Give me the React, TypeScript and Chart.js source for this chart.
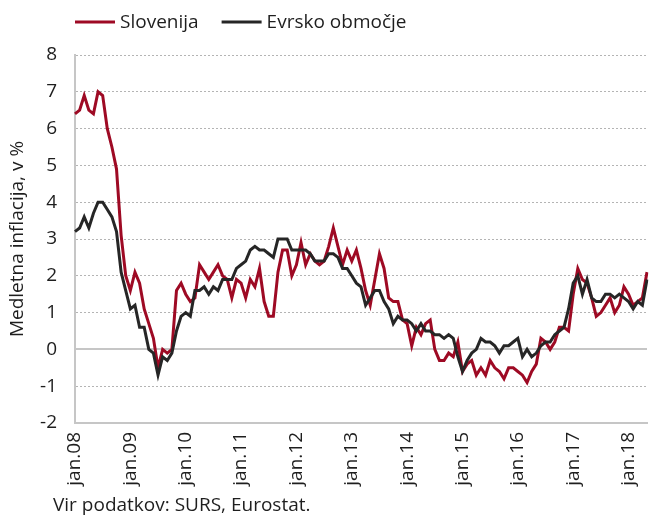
import React, { useEffect, useRef } from 'react';
import { Chart, registerables } from 'chart.js';

Chart.register(...registerables);

// ---- data ----
const monthNames = ['jan', 'feb', 'mar', 'apr', 'maj', 'jun', 'jul', 'avg', 'sep', 'okt', 'nov', 'dec'];
const years = ['08', '09', '10', '11', '12', '13', '14', '15', '16', '17', '18'];
const categories: string[] = years
  .flatMap((y) => monthNames.map((m) => `${m}.${y}`))
  .slice(0, 125);

const slovenija = [
  6.4, 6.5, 6.9, 6.5, 6.4, 7.0, 6.9, 6.0, 5.5, 4.9, 3.1, 2.0,
  1.6, 2.1, 1.8, 1.1, 0.7, 0.3, -0.5, 0.0, -0.1, 0.0, 1.6, 1.8,
  1.5, 1.3, 1.4, 2.3, 2.1, 1.9, 2.1, 2.3, 2.0, 1.9, 1.4, 1.9,
  1.8, 1.4, 1.9, 1.7, 2.2, 1.3, 0.9, 0.9, 2.1, 2.7, 2.7, 2.0,
  2.3, 2.9, 2.3, 2.6, 2.4, 2.3, 2.4, 2.8, 3.3, 2.8, 2.3, 2.7,
  2.4, 2.7, 2.2, 1.6, 1.2, 1.9, 2.6, 2.2, 1.4, 1.3, 1.3, 0.8,
  0.7, 0.1, 0.6, 0.4, 0.7, 0.8, 0.0, -0.3, -0.3, -0.1, -0.2, 0.2,
  -0.6, -0.4, -0.3, -0.7, -0.5, -0.7, -0.3, -0.5, -0.6, -0.8, -0.5, -0.5,
  -0.6, -0.7, -0.9, -0.6, -0.4, 0.3, 0.2, 0.0, 0.2, 0.6, 0.6, 0.5,
  1.5, 2.2, 1.9, 1.8, 1.4, 0.9, 1.0, 1.2, 1.4, 1.0, 1.2, 1.7,
  1.5, 1.2, 1.3, 1.4, 2.1,
];

const evrskoObmocje = [
  3.2, 3.3, 3.6, 3.3, 3.7, 4.0, 4.0, 3.8, 3.6, 3.2, 2.1, 1.6,
  1.1, 1.2, 0.6, 0.6, 0.0, -0.1, -0.7, -0.2, -0.3, -0.1, 0.5, 0.9,
  1.0, 0.9, 1.6, 1.6, 1.7, 1.5, 1.7, 1.6, 1.9, 1.9, 1.9, 2.2,
  2.3, 2.4, 2.7, 2.8, 2.7, 2.7, 2.6, 2.5, 3.0, 3.0, 3.0, 2.7,
  2.7, 2.7, 2.7, 2.6, 2.4, 2.4, 2.4, 2.6, 2.6, 2.5, 2.2, 2.2,
  2.0, 1.8, 1.7, 1.2, 1.4, 1.6, 1.6, 1.3, 1.1, 0.7, 0.9, 0.8,
  0.8, 0.7, 0.5, 0.7, 0.5, 0.5, 0.4, 0.4, 0.3, 0.4, 0.3, -0.2,
  -0.6, -0.3, -0.1, 0.0, 0.3, 0.2, 0.2, 0.1, -0.1, 0.1, 0.1, 0.2,
  0.3, -0.2, 0.0, -0.2, -0.1, 0.1, 0.2, 0.2, 0.4, 0.5, 0.6, 1.1,
  1.8, 2.0, 1.5, 1.9, 1.4, 1.3, 1.3, 1.5, 1.5, 1.4, 1.5, 1.4,
  1.3, 1.1, 1.3, 1.2, 1.9,
];

const seriesLabels = ['Slovenija', 'Evrsko območje'];
const yAxisTitle = 'Medletna inflacija, v %';
const sourceNote = 'Vir podatkov: SURS, Eurostat.';
const yMin = -2;
const yMax = 8;

// ---- styles ----
const FONT = '"Open Sans", sans-serif';
const TEXT = '#1e1e1e';
const RED = '#9e0a24';
const DARK = '#262626';
const AXIS_GREY = '#c6c6c6';
const GRID_GREY = '#b4b4b4';

const overlayPlugin = {
  id: 'overlayTexts',
  afterDraw(chart: any) {
    const ctx = chart.ctx as CanvasRenderingContext2D;
    ctx.save();
    ctx.font = `19px ${FONT}`;
    ctx.textBaseline = 'middle';
    let x = 75;
    const y = 22;
    chart.data.datasets.forEach((ds: any) => {
      ctx.strokeStyle = ds.borderColor;
      ctx.lineWidth = 3;
      ctx.beginPath();
      ctx.moveTo(x, y);
      ctx.lineTo(x + 40, y);
      ctx.stroke();
      x += 45;
      ctx.fillStyle = TEXT;
      ctx.textAlign = 'left';
      ctx.fillText(ds.label, x, y + 1);
      x += ctx.measureText(ds.label).width + 23;
    });
    ctx.textBaseline = 'alphabetic';
    ctx.fillStyle = TEXT;
    ctx.fillText(sourceNote, 53, 511);
    ctx.restore();
  },
};

export default function App() {
  const canvasRef = useRef<HTMLCanvasElement | null>(null);

  useEffect(() => {
    if (!canvasRef.current) return;
    const chart = new Chart(canvasRef.current, {
      type: 'line',
      data: {
        labels: categories,
        datasets: [
          {
            label: seriesLabels[0],
            data: slovenija,
            borderColor: RED,
            backgroundColor: RED,
            borderWidth: 3,
            pointRadius: 0,
            tension: 0,
            order: 2,
          },
          {
            label: seriesLabels[1],
            data: evrskoObmocje,
            borderColor: DARK,
            backgroundColor: DARK,
            borderWidth: 3,
            pointRadius: 0,
            tension: 0,
            order: 1,
          },
        ],
      },
      options: {
        animation: false,
        responsive: false,
        devicePixelRatio: 1,
        layout: { padding: { top: 55, right: 2, bottom: 0, left: 0 } },
        plugins: {
          legend: { display: false },
          tooltip: { enabled: false },
        },
        scales: {
          x: {
            type: 'category',
            offset: false,
            grid: { display: false, drawTicks: false },
            border: { display: true, color: AXIS_GREY, width: 2 },
            ticks: {
              autoSkip: false,
              maxRotation: 90,
              minRotation: 90,
              padding: 9,
              color: TEXT,
              font: { family: FONT, size: 19 },
              callback: (_v: any, i: number) => (i % 12 === 0 ? categories[i] : ''),
            },
            afterFit: (scale: any) => {
              scale.height = 93;
              scale.paddingLeft = 0;
              scale.paddingRight = 0;
            },
          },
          y: {
            min: yMin,
            max: yMax,
            ticks: {
              stepSize: 1,
              padding: 18,
              color: TEXT,
              font: { family: FONT, size: 19 },
            },
            grid: {
              drawTicks: false,
              color: (c: any) => (c.tick && c.tick.value === 0 ? AXIS_GREY : GRID_GREY),
              lineWidth: (c: any) => (c.tick && c.tick.value === 0 ? 2 : 1),
            },
            border: {
              display: true,
              color: AXIS_GREY,
              width: 2,
              dash: (c: any) => (c.tick && c.tick.value === 0 ? [] : [2, 2]),
            },
            title: {
              display: true,
              text: yAxisTitle,
              color: TEXT,
              font: { family: FONT, size: 19 },
              padding: { top: 6, bottom: 0 },
            },
            afterFit: (scale: any) => {
              scale.width = 75;
              scale.paddingTop = 0;
              scale.paddingBottom = 0;
            },
          },
        },
      },
      plugins: [overlayPlugin],
    });
    return () => chart.destroy();
  }, []);

  return (
    <div style={{ position: 'fixed', left: 0, top: 0, width: 649, height: 516, background: '#fff' }}>
      <canvas ref={canvasRef} width={649} height={516} />
    </div>
  );
}
